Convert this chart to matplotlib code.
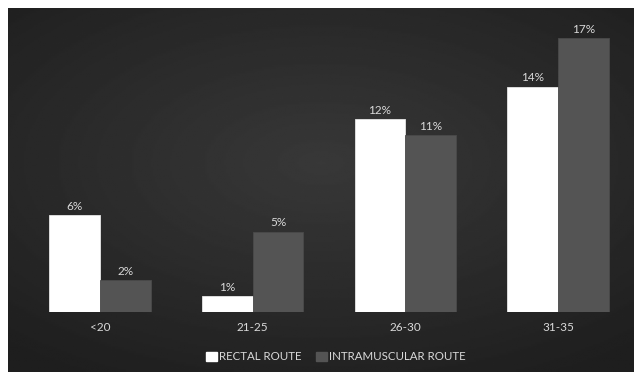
import numpy as np
import matplotlib.pyplot as plt
from matplotlib.patches import Patch

plt.rcParams['font.family'] = ['Lato', 'DejaVu Sans']

categories = ['<20', '21-25', '26-30', '31-35']
rectal = [6, 1, 12, 14]
intramuscular = [2, 5, 11, 17]
series_names = ['RECTAL ROUTE', 'INTRAMUSCULAR ROUTE']

W, H = 642, 379
fig = plt.figure(figsize=(W / 100, H / 100), dpi=100)
fig.patch.set_facecolor('white')

# dark panel with radial gradient
bg = fig.add_axes([8 / W, 7 / H, 626 / W, 364 / H])
yy, xx = np.mgrid[-1:1:200j, -1:1:300j]
r = np.sqrt((xx * 0.9) ** 2 + ((yy + 0.15) * 1.0) ** 2)
shade = 0.22 - 0.1 * np.clip(r / 1.35, 0, 1)
bg.imshow(shade, cmap='gray', vmin=0, vmax=1, aspect='auto', extent=[0, 1, 0, 1])
bg.axis('off')

ax = fig.add_axes([23.5 / W, (H - 312) / H, 611 / W, (312 - 22.2) / H])
ax.patch.set_alpha(0)
x = np.arange(len(categories))
w = 0.333
b1 = ax.bar(x - w / 2, rectal, w, color='white', edgecolor='#e6e6e6', linewidth=0.6)
b2 = ax.bar(x + w / 2, intramuscular, w, color='#545454', edgecolor='#4a4a4a', linewidth=0.6)
for bars, vals in [(b1, rectal), (b2, intramuscular)]:
    for b, v in zip(bars, vals):
        ax.text(b.get_x() + b.get_width() / 2, v + 0.2, f'{v}%', ha='center', va='bottom',
                color='#d9d9d9', fontsize=8.5)

ax.set_xlim(-0.5, len(categories) - 0.5)
ax.set_ylim(0, 18)
ax.set_yticks([])
ax.set_xticks(x)
ax.set_xticklabels(categories, color='#d9d9d9', fontsize=8.5)
ax.tick_params(axis='x', length=0, pad=7)
for s in ax.spines.values():
    s.set_visible(False)

handles = [Patch(facecolor='white', edgecolor='white'),
           Patch(facecolor='#545454', edgecolor='#545454')]
leg = fig.legend(handles, series_names, loc='center', bbox_to_anchor=(336 / W, (H - 357) / H),
                 ncol=2, frameon=False, fontsize=8.3, handlelength=0.9, handleheight=0.9,
                 handletextpad=0.2, columnspacing=1.3)
for t in leg.get_texts():
    t.set_color('#d9d9d9')

fig.savefig('out.png', dpi=100)
